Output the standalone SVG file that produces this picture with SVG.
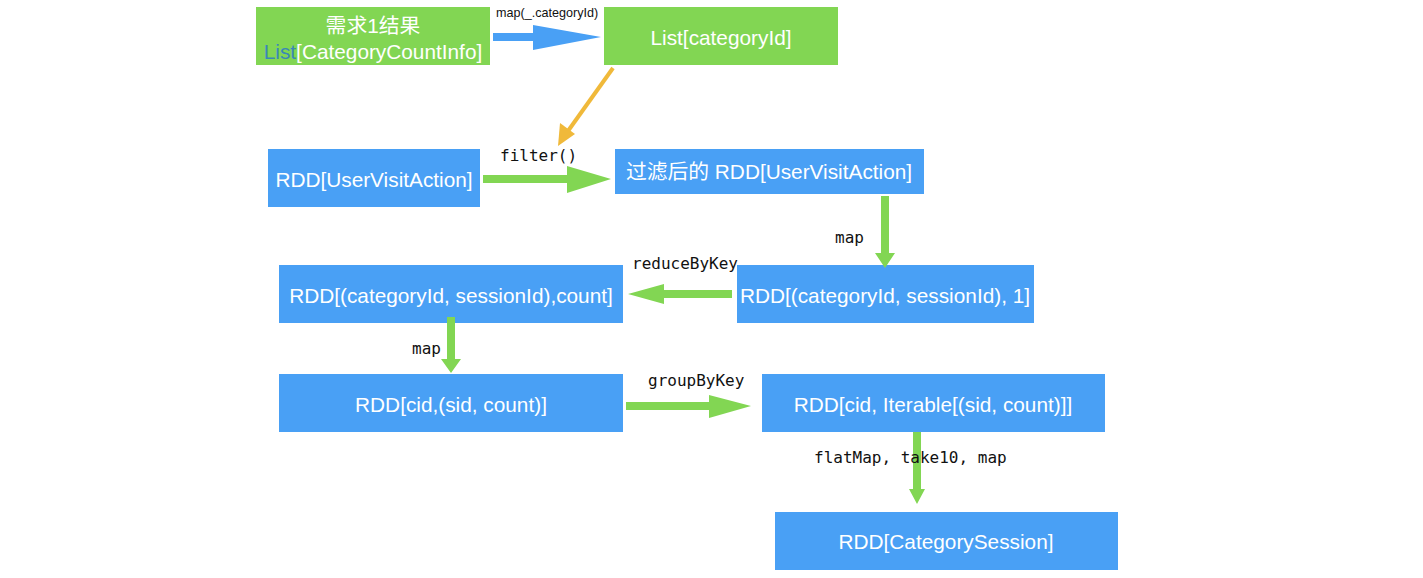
<svg xmlns="http://www.w3.org/2000/svg" width="1423" height="578" viewBox="0 0 1423 578">
<style>
.g{fill:#82d653}
.b{fill:#49a0f5}
.t{font-family:"Liberation Sans","Noto Sans CJK SC",sans-serif;font-size:20.8px;fill:#fff;text-anchor:middle;dominant-baseline:central}
.m{font-family:"DejaVu Sans Mono",monospace;font-size:16px;fill:#111}
.s{font-family:"Liberation Sans",sans-serif;font-size:12.6px;fill:#111}
</style>
<rect width="1423" height="578" fill="#fff"/>
<g id="n1"><rect class="g" x="256" y="7" width="234" height="58"/><text class="t" x="373" y="25">需求1结果</text><text class="t" x="373" y="51"><tspan fill="#3a87b8">List</tspan>[CategoryCountInfo]</text></g>
<g id="n2"><rect class="g" x="604" y="7" width="234" height="58"/><text class="t" x="721" y="37">List[categoryId]</text></g>
<g id="n3"><rect class="b" x="268" y="149" width="212" height="58"/><text class="t" x="374" y="179">RDD[UserVisitAction]</text></g>
<g id="n4"><rect class="b" x="615" y="149" width="309" height="45"/><text class="t" x="769" y="171">过滤后的 RDD[UserVisitAction]</text></g>
<g id="n5"><rect class="b" x="737" y="265" width="297" height="58"/><text class="t" x="885" y="295">RDD[(categoryId, sessionId), 1]</text></g>
<g id="n6"><rect class="b" x="279" y="265" width="344" height="58"/><text class="t" x="451" y="295">RDD[(categoryId, sessionId),count]</text></g>
<g id="n7"><rect class="b" x="279" y="374" width="344" height="58"/><text class="t" x="451" y="404">RDD[cid,(sid, count)]</text></g>
<g id="n8"><rect class="b" x="762" y="374" width="343" height="58"/><text class="t" x="933" y="404">RDD[cid, Iterable[(sid, count)]]</text></g>
<g id="n9"><rect class="b" x="775" y="512" width="343" height="58"/><text class="t" x="946" y="541">RDD[CategorySession]</text></g>
<g id="connectors">
<polygon fill="#49a0f5" points="493,33 533,33 533,25 601,37 533,50 533,41 493,41"/>
<text class="s" x="496" y="17">map(_.categoryId)</text>
<line x1="613" y1="68" x2="568" y2="131" stroke="#f0b93a" stroke-width="4"/>
<polygon fill="#f0b93a" points="558,146 560,123 575,134"/>
<polygon fill="#82d653" points="483,175 567,175 567,166 611,179 567,193 567,183 483,183"/>
<text class="m" x="500" y="161">filter()</text>
<polygon fill="#82d653" points="881,196 889,196 889,253 895,253 885,268 875,253 881,253"/>
<text class="m" x="835" y="243">map</text>
<polygon fill="#82d653" points="732,290 664,290 664,284 628,294 664,304 664,298 732,298"/>
<text class="m" x="632" y="269">reduceByKey</text>
<polygon fill="#82d653" points="447,317 455,317 455,359 461,359 451,373 441,359 447,359"/>
<text class="m" x="412" y="354">map</text>
<polygon fill="#82d653" points="626,402 709,402 709,395 751,406 709,418 709,410 626,410"/>
<text class="m" x="648" y="386">groupByKey</text>
<polygon fill="#82d653" points="913,432 921,432 921,489 925,489 917,504 909,489 913,489"/>
<text class="m" x="814" y="463">flatMap, take10, map</text>
</g>
</svg>
